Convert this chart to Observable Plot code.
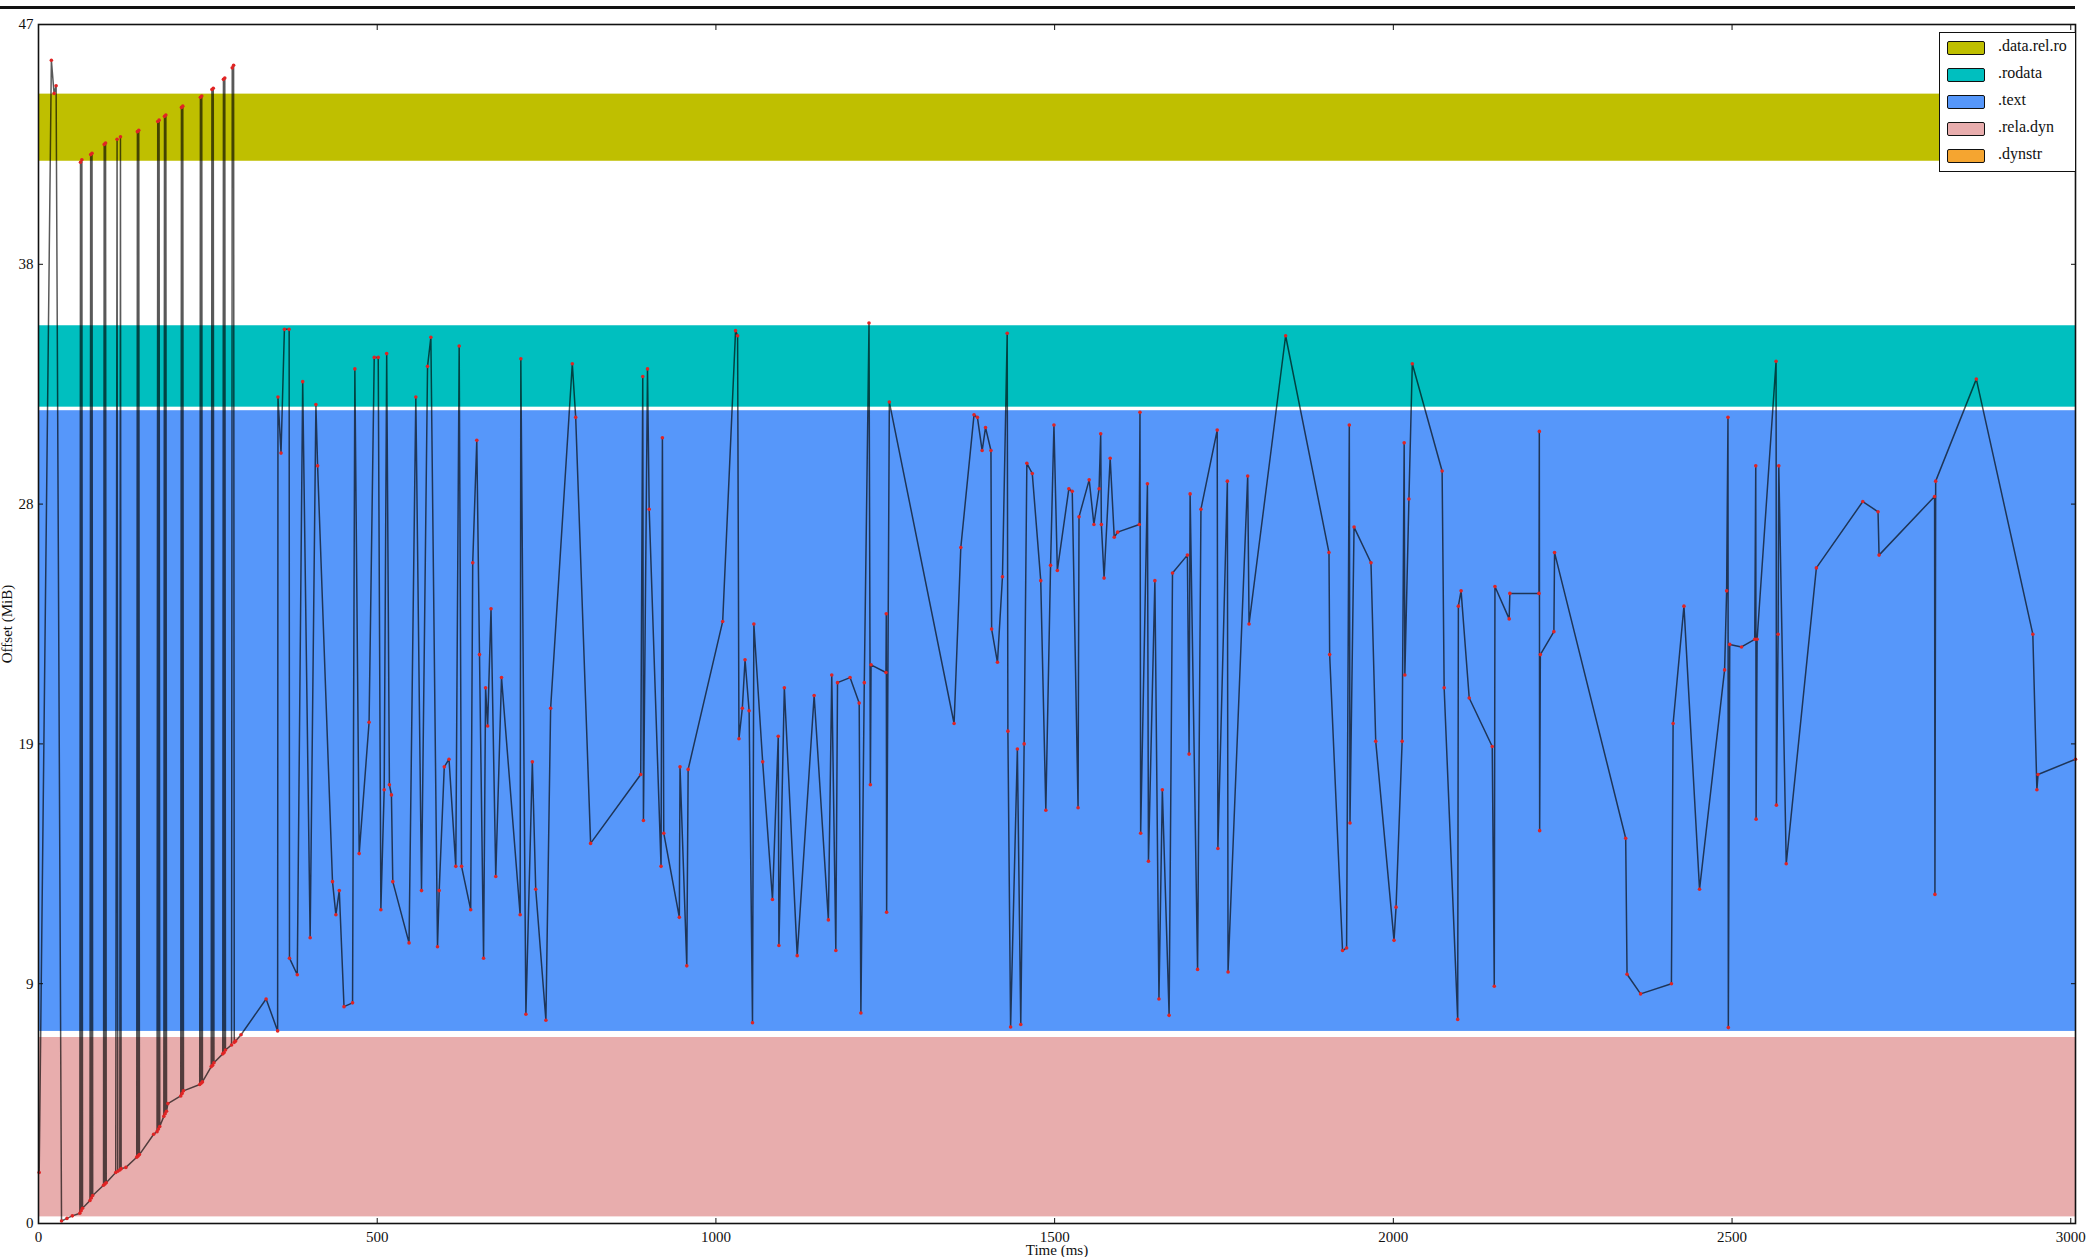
<!DOCTYPE html>
<html>
<head>
<meta charset="utf-8">
<script src="https://cdn.jsdelivr.net/npm/d3@7"></script>
<script src="https://cdn.jsdelivr.net/npm/@observablehq/plot@0.6"></script>
<style>
  html, body { margin: 0; padding: 0; background: white; }
  #wrap { position: relative; width: 2089px; height: 1257px; overflow: hidden; }
  #topline { position: absolute; left: 0; top: 6px; width: 2075px; height: 3px; background: #111; }
  #legend { position: absolute; left: 1939px; top: 32px; width: 136px; height: 140px; box-sizing: border-box;
            border: 1.5px solid #111; border-right: none; background: white; overflow: hidden;
            font-family: "Liberation Serif", "DejaVu Serif", serif; font-size: 16px; color: #111; }
  .item { position: absolute; left: 7px; height: 14px; white-space: nowrap; }
  .sw { position: absolute; left: 0; top: 0; width: 36px; height: 12px; border: 1.5px solid #111; border-radius: 2px; }
  .lb { position: absolute; left: 51px; top: -4px; }
</style>
</head>
<body>
<div id="wrap"><div id="topline"></div></div>
<script>
// ---- sections (memory regions) ----
const sectionNames = [".data.rel.ro", ".rodata", ".text", ".rela.dyn", ".dynstr"];
const sectionLow   = [41.6, 31.96, 7.49, 0.22];
const sectionHigh  = [44.31, 35.23, 31.9, 7.33];
const sectionColors = ["#bfbf00", "#00bfbf", "#5697fa", "#e8adad", "#f5a530"];

// ---- axis ticks ----
const xTicks = [0, 500, 1000, 1500, 2000, 2500, 3000];
const xMax = 3007;
const yTickValues = [0, 9.4, 18.8, 28.2, 37.6, 47];
const yTickLabels = ["0", "9", "19", "28", "38", "47"];

// ---- access trace: time (ms) ----
const timeMs = [
  1, 19, 23, 26, 34, 42, 50,
  61, 62, 63, 64, 65,
  76, 77, 78, 79, 80,
  96, 97, 98, 99, 100,
  114, 116, 117, 120, 121, 122, 129,
  145, 146, 147, 148, 149,
  170,
  175, 176, 177, 178, 179,
  185, 186, 187, 188, 189,
  191,
  210, 211, 212, 213, 214,
  238, 239, 240, 241, 242,
  255, 256, 257, 258, 259,
  272, 273, 274, 275, 276,
  285, 286, 288, 289, 291, 299,
  336, 353, 353.5, 358, 363, 370, 370.5, 382, 390, 401, 409.5, 412, 434, 439, 444,
  451, 463.6, 467, 473.4, 488, 495.6, 501.5, 505.4, 510.3, 514, 518, 521, 523, 547,
  557, 565.4, 574.3, 579.2, 589, 591.5, 599, 606, 616, 621, 624.5, 638, 641, 647,
  651, 657, 660, 663, 668, 675, 683.5, 711, 712, 719.5, 729, 734, 749, 756, 788,
  793, 815, 889, 892, 893, 899, 901.5, 919, 921, 923, 946, 947, 957, 959, 1010,
  1029, 1032, 1034, 1039, 1043, 1049, 1054, 1056, 1069, 1083.5, 1092, 1093, 1101,
  1120, 1145, 1166, 1171, 1177, 1179.5, 1198, 1211.5, 1214, 1219, 1226, 1228, 1229,
  1251, 1251.5, 1252, 1256, 1351.6, 1361.5, 1381, 1386, 1393, 1398, 1406, 1407,
  1415.6, 1423, 1430, 1431, 1435, 1445, 1450, 1455, 1459, 1467, 1479.5, 1487, 1494,
  1499, 1504, 1521, 1526, 1534.6, 1536, 1551, 1558, 1565.6, 1568, 1569, 1573, 1582,
  1588, 1593, 1625, 1626, 1627, 1637, 1638.5, 1648, 1654, 1659, 1669, 1674, 1696,
  1698.5, 1700, 1711, 1716, 1740, 1741, 1755, 1756, 1785, 1787, 1841, 1905, 1906,
  1925, 1931, 1935, 1936, 1942, 1967, 1974, 2001, 2004, 2013, 2016, 2017, 2023,
  2028, 2072, 2075, 2095, 2096, 2100, 2112, 2146, 2149, 2150, 2171, 2172, 2215,
  2215.5, 2216, 2217, 2237, 2238, 2343, 2345, 2365, 2410.5, 2413, 2429, 2452, 2489,
  2492, 2494, 2494.5, 2496.6, 2514, 2533.5, 2535, 2535.5, 2537, 2565, 2565.5, 2568,
  2569, 2580, 2624.5, 2693, 2715.5, 2717, 2799, 2799.5, 2800.6, 2860.6, 2944, 2950,
  2951.7, 3007
];
// ---- access trace: offset (MiB) ----
const offsetMiB = [
  2.0, 45.6, 44.3, 44.6, 0.1, 0.2, 0.3,
  0.4, 41.6, 0.5, 41.7, 0.6,
  0.9, 41.9, 1.0, 41.95, 1.1,
  1.5, 42.3, 1.55, 42.35, 1.6,
  2.0, 42.5, 2.05, 2.1, 42.6, 2.15, 2.2,
  2.6, 42.8, 2.65, 42.85, 2.7,
  3.5,
  3.6, 43.2, 3.7, 43.25, 3.8,
  4.2, 43.4, 4.3, 43.45, 4.4,
  4.7,
  5.0, 43.75, 5.1, 43.8, 5.2,
  5.45, 44.15, 5.5, 44.2, 5.55,
  6.15, 44.45, 6.2, 44.5, 6.3,
  6.65, 44.85, 6.7, 44.9, 6.8,
  7.0, 45.3, 45.4, 7.1, 7.15, 7.4,
  8.8, 7.55, 32.4, 30.2, 35.05, 35.05, 10.4, 9.75, 33.0, 11.2, 32.1, 29.7, 13.4, 12.1, 13.05,
  8.5, 8.65, 33.5, 14.5, 19.65, 33.95, 33.95, 12.3, 17.0, 34.1, 17.2, 16.8, 13.4, 11.0,
  32.4, 13.05, 33.6, 34.74, 10.85, 13.05, 17.9, 18.2, 14.0, 34.4, 14.0, 12.3, 25.9, 30.7,
  22.3, 10.4, 21.0, 19.5, 24.1, 13.6, 21.4, 12.1, 33.9, 8.2, 18.1, 13.1, 7.97, 20.2, 33.7,
  31.6, 14.9, 17.6, 33.2, 15.8, 33.5, 28.0, 14.0, 30.8, 15.3, 12.0, 17.9, 10.1, 17.8, 23.6,
  35.0, 34.8, 19.0, 20.2, 22.1, 20.1, 7.87, 23.5, 18.1, 12.7, 19.1, 10.9, 21.0,
  10.5, 20.7, 11.9, 21.5, 10.7, 21.2, 21.4, 20.4, 8.25, 21.2, 35.3, 17.2, 21.9,
  21.6, 23.9, 12.2, 32.2, 19.6, 26.5, 31.7, 31.6, 30.3, 31.2, 30.3, 23.3,
  22.0, 25.35, 34.9, 19.3, 7.7, 18.6, 7.8, 18.8, 29.8, 29.4, 25.2, 16.2, 25.8,
  31.3, 25.6, 28.8, 28.7, 16.3, 27.7, 29.15, 27.4, 28.8, 30.96, 27.4, 25.3, 30.0,
  26.9, 27.1, 27.4, 31.8, 15.3, 29.0, 14.2, 25.2, 8.8, 17.0, 8.16, 25.5, 26.2,
  18.4, 28.6, 9.96, 28.0, 31.1, 14.7, 29.1, 9.86, 29.3, 23.5, 34.8, 26.3, 22.3,
  10.7, 10.8, 31.3, 15.7, 27.3, 25.9, 18.9, 11.1, 12.4, 18.9, 30.6, 21.5, 28.4,
  33.7, 29.5, 21.0, 8.0, 24.2, 24.8, 20.6, 18.7, 9.3, 24.97, 23.7, 24.7, 24.7,
  31.05, 15.4, 22.3, 23.2, 26.3, 15.1, 9.77, 9.0, 9.4, 19.6, 24.2, 13.1, 21.7,
  24.8, 31.6, 7.68, 22.7, 22.6, 22.9, 29.7, 15.85, 22.9, 33.8, 16.4, 23.1,
  29.7, 14.1, 25.7, 28.3, 27.9, 26.2, 28.5, 12.9, 29.1, 33.1, 23.1, 17.0,
  17.6, 18.2
];

const trace = timeMs.map((t, i) => ({t, v: offsetMiB[i]}));
const sections = sectionLow.map((lo, i) => ({name: sectionNames[i], lo, hi: sectionHigh[i], x0: 0, x1: xMax, color: sectionColors[i]}));

const font = "'Liberation Serif', 'DejaVu Serif', serif";
const blank = () => "";

const chart = Plot.plot({
  width: 2089,
  height: 1257,
  marginLeft: 38,
  marginRight: 14,
  marginTop: 24,
  marginBottom: 34,
  style: {fontFamily: font, fontSize: "15px", color: "#111", background: "transparent"},
  x: {domain: [0, xMax]},
  y: {domain: [0, 47]},
  marks: [
    ...sections.map(s => Plot.rect([s], {x1: "x0", x2: "x1", y1: "lo", y2: "hi", fill: s.color, insetTop: 1, insetBottom: 1})),
    Plot.line(trace, {x: "t", y: "v", stroke: "#000", strokeOpacity: 0.65, strokeWidth: 1.5}),
    Plot.dot(trace, {x: "t", y: "v", r: 1.8, fill: "#e02424", stroke: null}),
    Plot.frame({stroke: "#111", strokeWidth: 1.6}),
    Plot.axisX({anchor: "bottom", ticks: xTicks, tickSize: -5, tickPadding: 13, tickFormat: d => String(d),
                label: "Time (ms)", labelArrow: "none", labelAnchor: "center", labelOffset: 31}),
    Plot.axisX({anchor: "top", ticks: xTicks, tickSize: -5, tickFormat: blank, label: null}),
    Plot.axisY({anchor: "left", ticks: yTickValues, tickSize: -5, tickPadding: 10,
                tickFormat: d => yTickLabels[yTickValues.indexOf(d)],
                label: "Offset (MiB)", labelArrow: "none", labelAnchor: "center", labelOffset: 37}),
    Plot.axisY({anchor: "right", ticks: yTickValues, tickSize: -5, tickFormat: blank, label: null})
  ]
});

const wrap = document.getElementById("wrap");
wrap.insertBefore(chart, wrap.firstChild);

// legend
const legend = document.createElement("div");
legend.id = "legend";
const rowTops = [8, 35, 62, 89, 116];
sectionNames.forEach((name, i) => {
  const item = document.createElement("div");
  item.className = "item";
  item.style.top = rowTops[i] + "px";
  const sw = document.createElement("div");
  sw.className = "sw";
  sw.style.background = sectionColors[i];
  const lb = document.createElement("div");
  lb.className = "lb";
  lb.textContent = name;
  item.appendChild(sw);
  item.appendChild(lb);
  legend.appendChild(item);
});
wrap.appendChild(legend);
</script>
</body>
</html>
